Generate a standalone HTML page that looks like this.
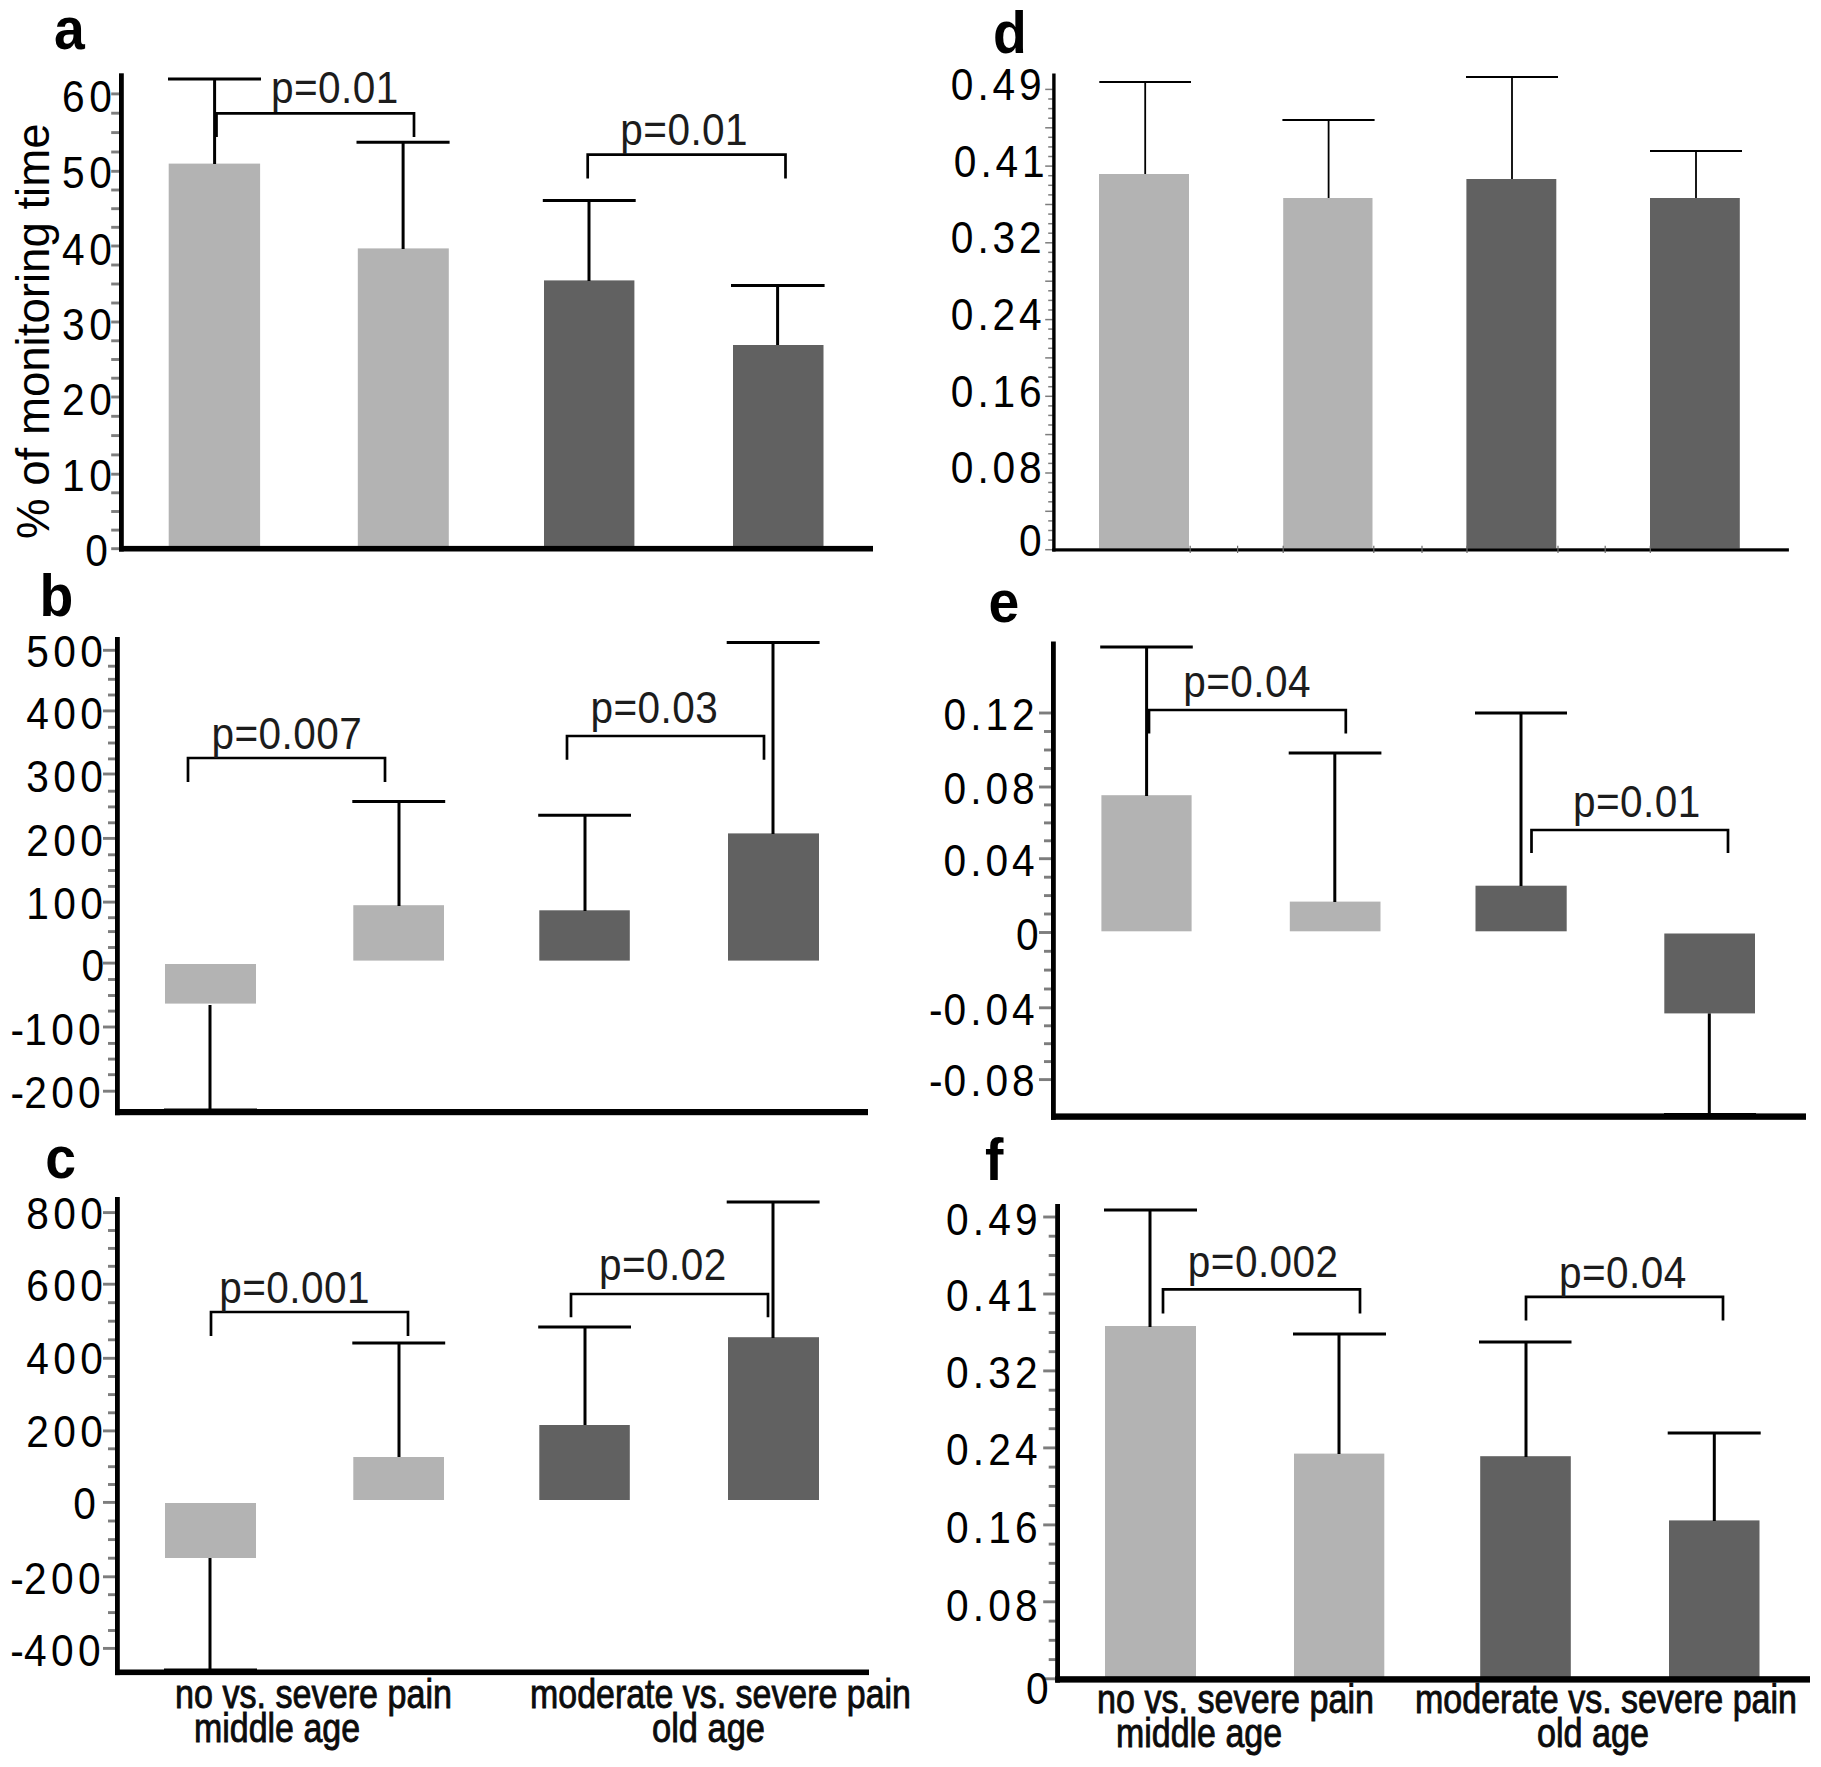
<!DOCTYPE html>
<html><head><meta charset="utf-8"><title>Figure</title>
<style>
html,body{margin:0;padding:0;background:#fff;}
svg{display:block;font-family:"Liberation Sans",Arial,sans-serif;}
</style></head><body>
<svg width="1821" height="1767" viewBox="0 0 1821 1767">
<rect width="1821" height="1767" fill="#fff"/>
<line x1="111.2" y1="93.9" x2="119.5" y2="93.9" stroke="#7d7d7d" stroke-width="2.9"/>
<line x1="111.2" y1="113.2" x2="119.5" y2="113.2" stroke="#7d7d7d" stroke-width="2.9"/>
<line x1="111.2" y1="132.6" x2="119.5" y2="132.6" stroke="#7d7d7d" stroke-width="2.9"/>
<line x1="111.2" y1="152.0" x2="119.5" y2="152.0" stroke="#7d7d7d" stroke-width="2.9"/>
<line x1="111.2" y1="171.3" x2="119.5" y2="171.3" stroke="#7d7d7d" stroke-width="2.9"/>
<line x1="111.2" y1="190.0" x2="119.5" y2="190.0" stroke="#7d7d7d" stroke-width="2.9"/>
<line x1="111.2" y1="208.7" x2="119.5" y2="208.7" stroke="#7d7d7d" stroke-width="2.9"/>
<line x1="111.2" y1="227.3" x2="119.5" y2="227.3" stroke="#7d7d7d" stroke-width="2.9"/>
<line x1="111.2" y1="246.0" x2="119.5" y2="246.0" stroke="#7d7d7d" stroke-width="2.9"/>
<line x1="111.2" y1="265.0" x2="119.5" y2="265.0" stroke="#7d7d7d" stroke-width="2.9"/>
<line x1="111.2" y1="284.0" x2="119.5" y2="284.0" stroke="#7d7d7d" stroke-width="2.9"/>
<line x1="111.2" y1="303.0" x2="119.5" y2="303.0" stroke="#7d7d7d" stroke-width="2.9"/>
<line x1="111.2" y1="322.0" x2="119.5" y2="322.0" stroke="#7d7d7d" stroke-width="2.9"/>
<line x1="111.2" y1="340.8" x2="119.5" y2="340.8" stroke="#7d7d7d" stroke-width="2.9"/>
<line x1="111.2" y1="359.5" x2="119.5" y2="359.5" stroke="#7d7d7d" stroke-width="2.9"/>
<line x1="111.2" y1="378.2" x2="119.5" y2="378.2" stroke="#7d7d7d" stroke-width="2.9"/>
<line x1="111.2" y1="397.0" x2="119.5" y2="397.0" stroke="#7d7d7d" stroke-width="2.9"/>
<line x1="111.2" y1="416.3" x2="119.5" y2="416.3" stroke="#7d7d7d" stroke-width="2.9"/>
<line x1="111.2" y1="435.6" x2="119.5" y2="435.6" stroke="#7d7d7d" stroke-width="2.9"/>
<line x1="111.2" y1="454.9" x2="119.5" y2="454.9" stroke="#7d7d7d" stroke-width="2.9"/>
<line x1="111.2" y1="474.2" x2="119.5" y2="474.2" stroke="#7d7d7d" stroke-width="2.9"/>
<line x1="111.2" y1="492.8" x2="119.5" y2="492.8" stroke="#7d7d7d" stroke-width="2.9"/>
<line x1="111.2" y1="511.5" x2="119.5" y2="511.5" stroke="#7d7d7d" stroke-width="2.9"/>
<line x1="111.2" y1="530.1" x2="119.5" y2="530.1" stroke="#7d7d7d" stroke-width="2.9"/>
<line x1="111.2" y1="548.7" x2="119.5" y2="548.7" stroke="#7d7d7d" stroke-width="2.9"/>
<rect x="168.7" y="163.6" width="91.4" height="384.4" fill="#b3b3b3"/>
<rect x="357.8" y="248.4" width="91.0" height="299.6" fill="#b3b3b3"/>
<rect x="544.0" y="280.4" width="90.4" height="267.6" fill="#616161"/>
<rect x="733.0" y="345.0" width="90.5" height="203.0" fill="#616161"/>
<line x1="214.6" y1="79.0" x2="214.6" y2="164.0" stroke="#000" stroke-width="3"/>
<line x1="168.0" y1="79.0" x2="261.0" y2="79.0" stroke="#000" stroke-width="3"/>
<line x1="403.1" y1="142.2" x2="403.1" y2="249.0" stroke="#000" stroke-width="3"/>
<line x1="356.5" y1="142.2" x2="449.6" y2="142.2" stroke="#000" stroke-width="3"/>
<line x1="589.0" y1="200.6" x2="589.0" y2="281.0" stroke="#000" stroke-width="3"/>
<line x1="542.8" y1="200.6" x2="635.7" y2="200.6" stroke="#000" stroke-width="3"/>
<line x1="777.6" y1="285.5" x2="777.6" y2="345.0" stroke="#000" stroke-width="3"/>
<line x1="731.0" y1="285.5" x2="824.6" y2="285.5" stroke="#000" stroke-width="3"/>
<rect x="119.0" y="73.3" width="4.8" height="478.2" fill="#000"/>
<rect x="119.0" y="545.9" width="754.0" height="5.6" fill="#000"/>
<text transform="translate(116.3,111.5) scale(0.925,1)" font-size="44" text-anchor="end" font-weight="normal" letter-spacing="4.9" fill="#000">60</text>
<text transform="translate(116.3,188.1) scale(0.925,1)" font-size="44" text-anchor="end" font-weight="normal" letter-spacing="4.9" fill="#000">50</text>
<text transform="translate(116.3,265.2) scale(0.925,1)" font-size="44" text-anchor="end" font-weight="normal" letter-spacing="4.9" fill="#000">40</text>
<text transform="translate(116.3,339.8) scale(0.925,1)" font-size="44" text-anchor="end" font-weight="normal" letter-spacing="4.9" fill="#000">30</text>
<text transform="translate(116.3,414.8) scale(0.925,1)" font-size="44" text-anchor="end" font-weight="normal" letter-spacing="4.9" fill="#000">20</text>
<text transform="translate(116.3,491.2) scale(0.925,1)" font-size="44" text-anchor="end" font-weight="normal" letter-spacing="4.9" fill="#000">10</text>
<text transform="translate(112.5,566.0) scale(0.925,1)" font-size="44" text-anchor="end" font-weight="normal" letter-spacing="4.9" fill="#000">0</text>
<path d="M216.5 137.0V113.4H414.0V137.0" fill="none" stroke="#000" stroke-width="2.7"/>
<text transform="translate(271.0,103.2) scale(0.907,1)" font-size="44.7" text-anchor="start" font-weight="normal" letter-spacing="0.5" fill="#1c1c1c">p=0.01</text>
<path d="M587.7 178.4V154.6H785.5V178.4" fill="none" stroke="#000" stroke-width="2.7"/>
<text transform="translate(620.3,144.6) scale(0.907,1)" font-size="44.7" text-anchor="start" font-weight="normal" letter-spacing="0.5" fill="#1c1c1c">p=0.01</text>
<text transform="translate(54.0,48.5) scale(0.93,1)" font-size="59.5" text-anchor="start" font-weight="bold" letter-spacing="0" fill="#000">a</text>
<line x1="103.0" y1="650.3" x2="115.5" y2="650.3" stroke="#7d7d7d" stroke-width="2.9"/>
<line x1="108.0" y1="666.2" x2="115.5" y2="666.2" stroke="#7d7d7d" stroke-width="2.9"/>
<line x1="108.0" y1="679.3" x2="115.5" y2="679.3" stroke="#7d7d7d" stroke-width="2.9"/>
<line x1="108.0" y1="695.0" x2="115.5" y2="695.0" stroke="#7d7d7d" stroke-width="2.9"/>
<line x1="103.0" y1="710.9" x2="115.5" y2="710.9" stroke="#7d7d7d" stroke-width="2.9"/>
<line x1="108.0" y1="727.3" x2="115.5" y2="727.3" stroke="#7d7d7d" stroke-width="2.9"/>
<line x1="108.0" y1="743.0" x2="115.5" y2="743.0" stroke="#7d7d7d" stroke-width="2.9"/>
<line x1="108.0" y1="758.9" x2="115.5" y2="758.9" stroke="#7d7d7d" stroke-width="2.9"/>
<line x1="103.0" y1="774.0" x2="115.5" y2="774.0" stroke="#7d7d7d" stroke-width="2.9"/>
<line x1="108.0" y1="791.2" x2="115.5" y2="791.2" stroke="#7d7d7d" stroke-width="2.9"/>
<line x1="108.0" y1="806.9" x2="115.5" y2="806.9" stroke="#7d7d7d" stroke-width="2.9"/>
<line x1="108.0" y1="822.8" x2="115.5" y2="822.8" stroke="#7d7d7d" stroke-width="2.9"/>
<line x1="103.0" y1="838.4" x2="115.5" y2="838.4" stroke="#7d7d7d" stroke-width="2.9"/>
<line x1="108.0" y1="854.8" x2="115.5" y2="854.8" stroke="#7d7d7d" stroke-width="2.9"/>
<line x1="108.0" y1="870.5" x2="115.5" y2="870.5" stroke="#7d7d7d" stroke-width="2.9"/>
<line x1="108.0" y1="886.4" x2="115.5" y2="886.4" stroke="#7d7d7d" stroke-width="2.9"/>
<line x1="103.0" y1="902.1" x2="115.5" y2="902.1" stroke="#7d7d7d" stroke-width="2.9"/>
<line x1="108.0" y1="917.7" x2="115.5" y2="917.7" stroke="#7d7d7d" stroke-width="2.9"/>
<line x1="108.0" y1="931.6" x2="115.5" y2="931.6" stroke="#7d7d7d" stroke-width="2.9"/>
<line x1="108.0" y1="947.5" x2="115.5" y2="947.5" stroke="#7d7d7d" stroke-width="2.9"/>
<line x1="103.0" y1="963.1" x2="115.5" y2="963.1" stroke="#7d7d7d" stroke-width="2.9"/>
<line x1="108.0" y1="979.5" x2="115.5" y2="979.5" stroke="#7d7d7d" stroke-width="2.9"/>
<line x1="108.0" y1="995.5" x2="115.5" y2="995.5" stroke="#7d7d7d" stroke-width="2.9"/>
<line x1="108.0" y1="1011.1" x2="115.5" y2="1011.1" stroke="#7d7d7d" stroke-width="2.9"/>
<line x1="103.0" y1="1027.0" x2="115.5" y2="1027.0" stroke="#7d7d7d" stroke-width="2.9"/>
<line x1="108.0" y1="1043.4" x2="115.5" y2="1043.4" stroke="#7d7d7d" stroke-width="2.9"/>
<line x1="108.0" y1="1059.1" x2="115.5" y2="1059.1" stroke="#7d7d7d" stroke-width="2.9"/>
<line x1="108.0" y1="1074.7" x2="115.5" y2="1074.7" stroke="#7d7d7d" stroke-width="2.9"/>
<line x1="103.0" y1="1091.2" x2="115.5" y2="1091.2" stroke="#7d7d7d" stroke-width="2.9"/>
<rect x="165.0" y="964.0" width="91.0" height="39.6" fill="#b3b3b3"/>
<rect x="353.3" y="905.2" width="90.7" height="55.4" fill="#b3b3b3"/>
<rect x="539.3" y="910.3" width="90.5" height="50.3" fill="#616161"/>
<rect x="728.0" y="833.4" width="91.0" height="127.2" fill="#616161"/>
<line x1="210.0" y1="1005.0" x2="210.0" y2="1110.0" stroke="#000" stroke-width="3"/>
<line x1="164.0" y1="1110.0" x2="257.0" y2="1110.0" stroke="#000" stroke-width="3"/>
<line x1="399.0" y1="801.5" x2="399.0" y2="906.0" stroke="#000" stroke-width="3"/>
<line x1="352.3" y1="801.5" x2="445.2" y2="801.5" stroke="#000" stroke-width="3"/>
<line x1="585.0" y1="815.3" x2="585.0" y2="911.0" stroke="#000" stroke-width="3"/>
<line x1="538.2" y1="815.3" x2="631.0" y2="815.3" stroke="#000" stroke-width="3"/>
<line x1="773.0" y1="642.6" x2="773.0" y2="834.0" stroke="#000" stroke-width="3"/>
<line x1="726.7" y1="642.6" x2="819.6" y2="642.6" stroke="#000" stroke-width="3"/>
<rect x="115.0" y="637.0" width="4.8" height="478.2" fill="#000"/>
<rect x="115.0" y="1109.0" width="753.0" height="6.2" fill="#000"/>
<text transform="translate(107.3,667.2) scale(0.925,1)" font-size="44" text-anchor="end" font-weight="normal" letter-spacing="4.7" fill="#000">500</text>
<text transform="translate(107.3,729.2) scale(0.925,1)" font-size="44" text-anchor="end" font-weight="normal" letter-spacing="4.7" fill="#000">400</text>
<text transform="translate(107.3,792.2) scale(0.925,1)" font-size="44" text-anchor="end" font-weight="normal" letter-spacing="4.7" fill="#000">300</text>
<text transform="translate(107.3,855.8) scale(0.925,1)" font-size="44" text-anchor="end" font-weight="normal" letter-spacing="4.7" fill="#000">200</text>
<text transform="translate(107.3,919.2) scale(0.925,1)" font-size="44" text-anchor="end" font-weight="normal" letter-spacing="4.7" fill="#000">100</text>
<text transform="translate(108.6,980.5) scale(0.925,1)" font-size="44" text-anchor="end" font-weight="normal" letter-spacing="4.7" fill="#000">0</text>
<text transform="translate(105.1,1044.5) scale(0.925,1)" font-size="44" text-anchor="end" font-weight="normal" letter-spacing="4.7" fill="#000">-<tspan dx="-4.54">100</tspan></text>
<text transform="translate(105.1,1108.2) scale(0.925,1)" font-size="44" text-anchor="end" font-weight="normal" letter-spacing="4.7" fill="#000">-<tspan dx="-4.54">200</tspan></text>
<path d="M188.0 782.0V758.0H385.0V782.0" fill="none" stroke="#000" stroke-width="2.7"/>
<text transform="translate(211.5,748.6) scale(0.907,1)" font-size="44.7" text-anchor="start" font-weight="normal" letter-spacing="0.5" fill="#1c1c1c">p=0.007</text>
<path d="M567.0 759.7V736.0H764.0V759.7" fill="none" stroke="#000" stroke-width="2.7"/>
<text transform="translate(590.5,722.8) scale(0.907,1)" font-size="44.7" text-anchor="start" font-weight="normal" letter-spacing="0.5" fill="#1c1c1c">p=0.03</text>
<text transform="translate(39.6,616.4) scale(0.93,1)" font-size="59.5" text-anchor="start" font-weight="bold" letter-spacing="0" fill="#000">b</text>
<line x1="103.0" y1="1212.6" x2="115.5" y2="1212.6" stroke="#7d7d7d" stroke-width="2.9"/>
<line x1="108.0" y1="1230.5" x2="115.5" y2="1230.5" stroke="#7d7d7d" stroke-width="2.9"/>
<line x1="108.0" y1="1248.4" x2="115.5" y2="1248.4" stroke="#7d7d7d" stroke-width="2.9"/>
<line x1="108.0" y1="1266.3" x2="115.5" y2="1266.3" stroke="#7d7d7d" stroke-width="2.9"/>
<line x1="103.0" y1="1284.2" x2="115.5" y2="1284.2" stroke="#7d7d7d" stroke-width="2.9"/>
<line x1="108.0" y1="1302.7" x2="115.5" y2="1302.7" stroke="#7d7d7d" stroke-width="2.9"/>
<line x1="108.0" y1="1321.2" x2="115.5" y2="1321.2" stroke="#7d7d7d" stroke-width="2.9"/>
<line x1="108.0" y1="1339.8" x2="115.5" y2="1339.8" stroke="#7d7d7d" stroke-width="2.9"/>
<line x1="103.0" y1="1358.3" x2="115.5" y2="1358.3" stroke="#7d7d7d" stroke-width="2.9"/>
<line x1="108.0" y1="1376.5" x2="115.5" y2="1376.5" stroke="#7d7d7d" stroke-width="2.9"/>
<line x1="108.0" y1="1394.6" x2="115.5" y2="1394.6" stroke="#7d7d7d" stroke-width="2.9"/>
<line x1="108.0" y1="1412.8" x2="115.5" y2="1412.8" stroke="#7d7d7d" stroke-width="2.9"/>
<line x1="103.0" y1="1430.9" x2="115.5" y2="1430.9" stroke="#7d7d7d" stroke-width="2.9"/>
<line x1="108.0" y1="1448.8" x2="115.5" y2="1448.8" stroke="#7d7d7d" stroke-width="2.9"/>
<line x1="108.0" y1="1466.7" x2="115.5" y2="1466.7" stroke="#7d7d7d" stroke-width="2.9"/>
<line x1="108.0" y1="1484.5" x2="115.5" y2="1484.5" stroke="#7d7d7d" stroke-width="2.9"/>
<line x1="103.0" y1="1502.4" x2="115.5" y2="1502.4" stroke="#7d7d7d" stroke-width="2.9"/>
<line x1="108.0" y1="1521.0" x2="115.5" y2="1521.0" stroke="#7d7d7d" stroke-width="2.9"/>
<line x1="108.0" y1="1539.6" x2="115.5" y2="1539.6" stroke="#7d7d7d" stroke-width="2.9"/>
<line x1="108.0" y1="1558.2" x2="115.5" y2="1558.2" stroke="#7d7d7d" stroke-width="2.9"/>
<line x1="103.0" y1="1576.8" x2="115.5" y2="1576.8" stroke="#7d7d7d" stroke-width="2.9"/>
<line x1="108.0" y1="1594.7" x2="115.5" y2="1594.7" stroke="#7d7d7d" stroke-width="2.9"/>
<line x1="108.0" y1="1612.6" x2="115.5" y2="1612.6" stroke="#7d7d7d" stroke-width="2.9"/>
<line x1="108.0" y1="1630.5" x2="115.5" y2="1630.5" stroke="#7d7d7d" stroke-width="2.9"/>
<line x1="103.0" y1="1648.4" x2="115.5" y2="1648.4" stroke="#7d7d7d" stroke-width="2.9"/>
<rect x="165.0" y="1503.0" width="91.0" height="55.0" fill="#b3b3b3"/>
<rect x="353.3" y="1457.0" width="90.7" height="43.0" fill="#b3b3b3"/>
<rect x="539.3" y="1425.0" width="90.5" height="75.0" fill="#616161"/>
<rect x="728.0" y="1337.2" width="91.0" height="162.8" fill="#616161"/>
<line x1="210.0" y1="1558.0" x2="210.0" y2="1670.0" stroke="#000" stroke-width="3"/>
<line x1="164.0" y1="1670.0" x2="257.0" y2="1670.0" stroke="#000" stroke-width="3"/>
<line x1="399.0" y1="1343.0" x2="399.0" y2="1457.0" stroke="#000" stroke-width="3"/>
<line x1="352.3" y1="1343.0" x2="445.2" y2="1343.0" stroke="#000" stroke-width="3"/>
<line x1="585.0" y1="1327.0" x2="585.0" y2="1425.0" stroke="#000" stroke-width="3"/>
<line x1="538.2" y1="1327.0" x2="631.0" y2="1327.0" stroke="#000" stroke-width="3"/>
<line x1="773.0" y1="1202.0" x2="773.0" y2="1338.0" stroke="#000" stroke-width="3"/>
<line x1="726.7" y1="1202.0" x2="819.6" y2="1202.0" stroke="#000" stroke-width="3"/>
<rect x="115.0" y="1197.0" width="4.8" height="478.1" fill="#000"/>
<rect x="115.0" y="1669.5" width="754.0" height="5.6" fill="#000"/>
<text transform="translate(107.3,1229.2) scale(0.925,1)" font-size="44" text-anchor="end" font-weight="normal" letter-spacing="4.7" fill="#000">800</text>
<text transform="translate(107.3,1301.2) scale(0.925,1)" font-size="44" text-anchor="end" font-weight="normal" letter-spacing="4.7" fill="#000">600</text>
<text transform="translate(107.3,1374.2) scale(0.925,1)" font-size="44" text-anchor="end" font-weight="normal" letter-spacing="4.7" fill="#000">400</text>
<text transform="translate(107.3,1446.8) scale(0.925,1)" font-size="44" text-anchor="end" font-weight="normal" letter-spacing="4.7" fill="#000">200</text>
<text transform="translate(100.3,1519.2) scale(0.925,1)" font-size="44" text-anchor="end" font-weight="normal" letter-spacing="4.7" fill="#000">0</text>
<text transform="translate(105.0,1593.5) scale(0.925,1)" font-size="44" text-anchor="end" font-weight="normal" letter-spacing="4.7" fill="#000">-<tspan dx="-4.54">200</tspan></text>
<text transform="translate(105.0,1665.5) scale(0.925,1)" font-size="44" text-anchor="end" font-weight="normal" letter-spacing="4.7" fill="#000">-<tspan dx="-4.54">400</tspan></text>
<path d="M211.0 1336.0V1312.0H408.0V1336.0" fill="none" stroke="#000" stroke-width="2.7"/>
<text transform="translate(219.2,1303.0) scale(0.907,1)" font-size="44.7" text-anchor="start" font-weight="normal" letter-spacing="0.5" fill="#1c1c1c">p=0.001</text>
<path d="M571.0 1317.3V1294.0H768.0V1317.3" fill="none" stroke="#000" stroke-width="2.7"/>
<text transform="translate(599.0,1280.0) scale(0.907,1)" font-size="44.7" text-anchor="start" font-weight="normal" letter-spacing="0.5" fill="#1c1c1c">p=0.02</text>
<text transform="translate(45.3,1178.2) scale(0.93,1)" font-size="59.5" text-anchor="start" font-weight="bold" letter-spacing="0" fill="#000">c</text>
<line x1="1045.2" y1="89.4" x2="1052.7" y2="89.4" stroke="#7d7d7d" stroke-width="1.5"/>
<line x1="1048.2" y1="99.0" x2="1052.7" y2="99.0" stroke="#7d7d7d" stroke-width="1.5"/>
<line x1="1048.2" y1="108.6" x2="1052.7" y2="108.6" stroke="#7d7d7d" stroke-width="1.5"/>
<line x1="1048.2" y1="118.2" x2="1052.7" y2="118.2" stroke="#7d7d7d" stroke-width="1.5"/>
<line x1="1045.2" y1="127.8" x2="1052.7" y2="127.8" stroke="#7d7d7d" stroke-width="1.5"/>
<line x1="1048.2" y1="137.3" x2="1052.7" y2="137.3" stroke="#7d7d7d" stroke-width="1.5"/>
<line x1="1048.2" y1="146.9" x2="1052.7" y2="146.9" stroke="#7d7d7d" stroke-width="1.5"/>
<line x1="1048.2" y1="156.5" x2="1052.7" y2="156.5" stroke="#7d7d7d" stroke-width="1.5"/>
<line x1="1045.2" y1="166.1" x2="1052.7" y2="166.1" stroke="#7d7d7d" stroke-width="1.5"/>
<line x1="1048.2" y1="175.7" x2="1052.7" y2="175.7" stroke="#7d7d7d" stroke-width="1.5"/>
<line x1="1048.2" y1="185.3" x2="1052.7" y2="185.3" stroke="#7d7d7d" stroke-width="1.5"/>
<line x1="1048.2" y1="194.9" x2="1052.7" y2="194.9" stroke="#7d7d7d" stroke-width="1.5"/>
<line x1="1045.2" y1="204.5" x2="1052.7" y2="204.5" stroke="#7d7d7d" stroke-width="1.5"/>
<line x1="1048.2" y1="214.1" x2="1052.7" y2="214.1" stroke="#7d7d7d" stroke-width="1.5"/>
<line x1="1048.2" y1="223.7" x2="1052.7" y2="223.7" stroke="#7d7d7d" stroke-width="1.5"/>
<line x1="1048.2" y1="233.2" x2="1052.7" y2="233.2" stroke="#7d7d7d" stroke-width="1.5"/>
<line x1="1045.2" y1="242.8" x2="1052.7" y2="242.8" stroke="#7d7d7d" stroke-width="1.5"/>
<line x1="1048.2" y1="252.4" x2="1052.7" y2="252.4" stroke="#7d7d7d" stroke-width="1.5"/>
<line x1="1048.2" y1="262.0" x2="1052.7" y2="262.0" stroke="#7d7d7d" stroke-width="1.5"/>
<line x1="1048.2" y1="271.6" x2="1052.7" y2="271.6" stroke="#7d7d7d" stroke-width="1.5"/>
<line x1="1045.2" y1="281.2" x2="1052.7" y2="281.2" stroke="#7d7d7d" stroke-width="1.5"/>
<line x1="1048.2" y1="290.8" x2="1052.7" y2="290.8" stroke="#7d7d7d" stroke-width="1.5"/>
<line x1="1048.2" y1="300.4" x2="1052.7" y2="300.4" stroke="#7d7d7d" stroke-width="1.5"/>
<line x1="1048.2" y1="310.0" x2="1052.7" y2="310.0" stroke="#7d7d7d" stroke-width="1.5"/>
<line x1="1045.2" y1="319.6" x2="1052.7" y2="319.6" stroke="#7d7d7d" stroke-width="1.5"/>
<line x1="1048.2" y1="329.1" x2="1052.7" y2="329.1" stroke="#7d7d7d" stroke-width="1.5"/>
<line x1="1048.2" y1="338.7" x2="1052.7" y2="338.7" stroke="#7d7d7d" stroke-width="1.5"/>
<line x1="1048.2" y1="348.3" x2="1052.7" y2="348.3" stroke="#7d7d7d" stroke-width="1.5"/>
<line x1="1045.2" y1="357.9" x2="1052.7" y2="357.9" stroke="#7d7d7d" stroke-width="1.5"/>
<line x1="1048.2" y1="367.5" x2="1052.7" y2="367.5" stroke="#7d7d7d" stroke-width="1.5"/>
<line x1="1048.2" y1="377.1" x2="1052.7" y2="377.1" stroke="#7d7d7d" stroke-width="1.5"/>
<line x1="1048.2" y1="386.7" x2="1052.7" y2="386.7" stroke="#7d7d7d" stroke-width="1.5"/>
<line x1="1045.2" y1="396.3" x2="1052.7" y2="396.3" stroke="#7d7d7d" stroke-width="1.5"/>
<line x1="1048.2" y1="405.9" x2="1052.7" y2="405.9" stroke="#7d7d7d" stroke-width="1.5"/>
<line x1="1048.2" y1="415.4" x2="1052.7" y2="415.4" stroke="#7d7d7d" stroke-width="1.5"/>
<line x1="1048.2" y1="425.0" x2="1052.7" y2="425.0" stroke="#7d7d7d" stroke-width="1.5"/>
<line x1="1045.2" y1="434.6" x2="1052.7" y2="434.6" stroke="#7d7d7d" stroke-width="1.5"/>
<line x1="1048.2" y1="444.2" x2="1052.7" y2="444.2" stroke="#7d7d7d" stroke-width="1.5"/>
<line x1="1048.2" y1="453.8" x2="1052.7" y2="453.8" stroke="#7d7d7d" stroke-width="1.5"/>
<line x1="1048.2" y1="463.4" x2="1052.7" y2="463.4" stroke="#7d7d7d" stroke-width="1.5"/>
<line x1="1045.2" y1="473.0" x2="1052.7" y2="473.0" stroke="#7d7d7d" stroke-width="1.5"/>
<line x1="1048.2" y1="482.6" x2="1052.7" y2="482.6" stroke="#7d7d7d" stroke-width="1.5"/>
<line x1="1048.2" y1="492.2" x2="1052.7" y2="492.2" stroke="#7d7d7d" stroke-width="1.5"/>
<line x1="1048.2" y1="501.8" x2="1052.7" y2="501.8" stroke="#7d7d7d" stroke-width="1.5"/>
<line x1="1045.2" y1="511.3" x2="1052.7" y2="511.3" stroke="#7d7d7d" stroke-width="1.5"/>
<line x1="1048.2" y1="520.9" x2="1052.7" y2="520.9" stroke="#7d7d7d" stroke-width="1.5"/>
<line x1="1048.2" y1="530.5" x2="1052.7" y2="530.5" stroke="#7d7d7d" stroke-width="1.5"/>
<line x1="1048.2" y1="540.1" x2="1052.7" y2="540.1" stroke="#7d7d7d" stroke-width="1.5"/>
<line x1="1045.2" y1="549.7" x2="1052.7" y2="549.7" stroke="#7d7d7d" stroke-width="1.5"/>
<rect x="1099.0" y="174.0" width="90.0" height="374.5" fill="#b3b3b3"/>
<rect x="1283.2" y="198.0" width="89.3" height="350.5" fill="#b3b3b3"/>
<rect x="1466.4" y="179.0" width="89.9" height="369.5" fill="#616161"/>
<rect x="1650.0" y="198.0" width="89.8" height="350.5" fill="#616161"/>
<line x1="1145.2" y1="82.0" x2="1145.2" y2="174.0" stroke="#000" stroke-width="1.8"/>
<line x1="1099.3" y1="82.0" x2="1191.0" y2="82.0" stroke="#000" stroke-width="1.8"/>
<line x1="1328.6" y1="120.0" x2="1328.6" y2="198.0" stroke="#000" stroke-width="1.8"/>
<line x1="1282.4" y1="120.0" x2="1374.6" y2="120.0" stroke="#000" stroke-width="1.8"/>
<line x1="1512.0" y1="77.0" x2="1512.0" y2="179.0" stroke="#000" stroke-width="1.8"/>
<line x1="1466.0" y1="77.0" x2="1558.0" y2="77.0" stroke="#000" stroke-width="1.8"/>
<line x1="1696.0" y1="151.0" x2="1696.0" y2="198.0" stroke="#000" stroke-width="1.8"/>
<line x1="1650.0" y1="151.0" x2="1742.0" y2="151.0" stroke="#000" stroke-width="1.8"/>
<rect x="1052.2" y="73.5" width="3.4" height="478.0" fill="#000"/>
<rect x="1052.2" y="548.3" width="736.7" height="3.2" fill="#000"/>
<line x1="1190.2" y1="545.7" x2="1190.2" y2="553.1" stroke="#6a6a6a" stroke-width="1.2"/>
<line x1="1237.6" y1="545.7" x2="1237.6" y2="553.1" stroke="#6a6a6a" stroke-width="1.2"/>
<line x1="1283.2" y1="545.7" x2="1283.2" y2="553.1" stroke="#6a6a6a" stroke-width="1.2"/>
<line x1="1373.8" y1="545.7" x2="1373.8" y2="553.1" stroke="#6a6a6a" stroke-width="1.2"/>
<line x1="1422.0" y1="545.7" x2="1422.0" y2="553.1" stroke="#6a6a6a" stroke-width="1.2"/>
<line x1="1467.0" y1="545.7" x2="1467.0" y2="553.1" stroke="#6a6a6a" stroke-width="1.2"/>
<line x1="1558.0" y1="545.7" x2="1558.0" y2="553.1" stroke="#6a6a6a" stroke-width="1.2"/>
<line x1="1605.2" y1="545.7" x2="1605.2" y2="553.1" stroke="#6a6a6a" stroke-width="1.2"/>
<line x1="1650.3" y1="545.7" x2="1650.3" y2="553.1" stroke="#6a6a6a" stroke-width="1.2"/>
<text transform="translate(1045.6,99.8) scale(0.925,1)" font-size="44" text-anchor="end" font-weight="normal" letter-spacing="4.2" fill="#000">0.49</text>
<text transform="translate(1048.6,176.8) scale(0.925,1)" font-size="44" text-anchor="end" font-weight="normal" letter-spacing="4.2" fill="#000">0.41</text>
<text transform="translate(1045.6,253.2) scale(0.925,1)" font-size="44" text-anchor="end" font-weight="normal" letter-spacing="4.2" fill="#000">0.32</text>
<text transform="translate(1045.6,330.2) scale(0.925,1)" font-size="44" text-anchor="end" font-weight="normal" letter-spacing="4.2" fill="#000">0.24</text>
<text transform="translate(1045.6,406.8) scale(0.925,1)" font-size="44" text-anchor="end" font-weight="normal" letter-spacing="4.2" fill="#000">0.16</text>
<text transform="translate(1045.6,483.2) scale(0.925,1)" font-size="44" text-anchor="end" font-weight="normal" letter-spacing="4.2" fill="#000">0.08</text>
<text transform="translate(1045.6,556.2) scale(0.925,1)" font-size="44" text-anchor="end" font-weight="normal" letter-spacing="4.2" fill="#000">0</text>
<text transform="translate(993.0,53.0) scale(0.93,1)" font-size="59.5" text-anchor="start" font-weight="bold" letter-spacing="0" fill="#000">d</text>
<line x1="1039.0" y1="713.0" x2="1051.5" y2="713.0" stroke="#7d7d7d" stroke-width="2.9"/>
<line x1="1044.0" y1="731.5" x2="1051.5" y2="731.5" stroke="#7d7d7d" stroke-width="2.9"/>
<line x1="1044.0" y1="750.0" x2="1051.5" y2="750.0" stroke="#7d7d7d" stroke-width="2.9"/>
<line x1="1044.0" y1="768.5" x2="1051.5" y2="768.5" stroke="#7d7d7d" stroke-width="2.9"/>
<line x1="1039.0" y1="787.0" x2="1051.5" y2="787.0" stroke="#7d7d7d" stroke-width="2.9"/>
<line x1="1044.0" y1="804.9" x2="1051.5" y2="804.9" stroke="#7d7d7d" stroke-width="2.9"/>
<line x1="1044.0" y1="822.9" x2="1051.5" y2="822.9" stroke="#7d7d7d" stroke-width="2.9"/>
<line x1="1044.0" y1="840.8" x2="1051.5" y2="840.8" stroke="#7d7d7d" stroke-width="2.9"/>
<line x1="1039.0" y1="858.7" x2="1051.5" y2="858.7" stroke="#7d7d7d" stroke-width="2.9"/>
<line x1="1044.0" y1="877.2" x2="1051.5" y2="877.2" stroke="#7d7d7d" stroke-width="2.9"/>
<line x1="1044.0" y1="895.6" x2="1051.5" y2="895.6" stroke="#7d7d7d" stroke-width="2.9"/>
<line x1="1044.0" y1="914.0" x2="1051.5" y2="914.0" stroke="#7d7d7d" stroke-width="2.9"/>
<line x1="1039.0" y1="932.5" x2="1051.5" y2="932.5" stroke="#7d7d7d" stroke-width="2.9"/>
<line x1="1044.0" y1="951.3" x2="1051.5" y2="951.3" stroke="#7d7d7d" stroke-width="2.9"/>
<line x1="1044.0" y1="970.1" x2="1051.5" y2="970.1" stroke="#7d7d7d" stroke-width="2.9"/>
<line x1="1044.0" y1="989.0" x2="1051.5" y2="989.0" stroke="#7d7d7d" stroke-width="2.9"/>
<line x1="1039.0" y1="1007.8" x2="1051.5" y2="1007.8" stroke="#7d7d7d" stroke-width="2.9"/>
<line x1="1044.0" y1="1025.8" x2="1051.5" y2="1025.8" stroke="#7d7d7d" stroke-width="2.9"/>
<line x1="1044.0" y1="1043.7" x2="1051.5" y2="1043.7" stroke="#7d7d7d" stroke-width="2.9"/>
<line x1="1044.0" y1="1061.6" x2="1051.5" y2="1061.6" stroke="#7d7d7d" stroke-width="2.9"/>
<line x1="1039.0" y1="1079.6" x2="1051.5" y2="1079.6" stroke="#7d7d7d" stroke-width="2.9"/>
<rect x="1101.4" y="795.2" width="90.2" height="136.1" fill="#b3b3b3"/>
<rect x="1289.8" y="901.6" width="90.7" height="29.7" fill="#b3b3b3"/>
<rect x="1475.5" y="885.7" width="91.2" height="45.6" fill="#616161"/>
<rect x="1664.3" y="933.5" width="90.7" height="79.9" fill="#616161"/>
<line x1="1146.6" y1="647.0" x2="1146.6" y2="796.0" stroke="#000" stroke-width="3"/>
<line x1="1100.2" y1="647.0" x2="1192.8" y2="647.0" stroke="#000" stroke-width="3"/>
<line x1="1334.8" y1="753.0" x2="1334.8" y2="902.0" stroke="#000" stroke-width="3"/>
<line x1="1288.7" y1="753.0" x2="1381.4" y2="753.0" stroke="#000" stroke-width="3"/>
<line x1="1521.0" y1="713.0" x2="1521.0" y2="886.0" stroke="#000" stroke-width="3"/>
<line x1="1475.0" y1="713.0" x2="1567.0" y2="713.0" stroke="#000" stroke-width="3"/>
<line x1="1709.3" y1="1013.4" x2="1709.3" y2="1114.0" stroke="#000" stroke-width="3"/>
<line x1="1664.0" y1="1114.5" x2="1756.0" y2="1114.5" stroke="#000" stroke-width="3"/>
<rect x="1051.0" y="641.5" width="4.8" height="478.3" fill="#000"/>
<rect x="1051.0" y="1113.4" width="755.0" height="6.4" fill="#000"/>
<text transform="translate(1038.7,729.6) scale(0.925,1)" font-size="44" text-anchor="end" font-weight="normal" letter-spacing="4.3" fill="#000">0.12</text>
<text transform="translate(1038.7,804.2) scale(0.925,1)" font-size="44" text-anchor="end" font-weight="normal" letter-spacing="4.3" fill="#000">0.08</text>
<text transform="translate(1038.7,875.6) scale(0.925,1)" font-size="44" text-anchor="end" font-weight="normal" letter-spacing="4.3" fill="#000">0.04</text>
<text transform="translate(1042.7,950.2) scale(0.925,1)" font-size="44" text-anchor="end" font-weight="normal" letter-spacing="4.3" fill="#000">0</text>
<text transform="translate(1038.7,1025.0) scale(0.925,1)" font-size="44" text-anchor="end" font-weight="normal" letter-spacing="4.3" fill="#000">-<tspan dx="-3.14">0.04</tspan></text>
<text transform="translate(1038.7,1095.8) scale(0.925,1)" font-size="44" text-anchor="end" font-weight="normal" letter-spacing="4.3" fill="#000">-<tspan dx="-3.14">0.08</tspan></text>
<path d="M1149.0 733.5V710.0H1345.8V733.5" fill="none" stroke="#000" stroke-width="2.7"/>
<text transform="translate(1183.2,696.6) scale(0.907,1)" font-size="44.7" text-anchor="start" font-weight="normal" letter-spacing="0.5" fill="#1c1c1c">p=0.04</text>
<path d="M1531.5 853.0V830.0H1728.0V853.0" fill="none" stroke="#000" stroke-width="2.7"/>
<text transform="translate(1573.0,817.0) scale(0.907,1)" font-size="44.7" text-anchor="start" font-weight="normal" letter-spacing="0.5" fill="#1c1c1c">p=0.01</text>
<text transform="translate(988.5,621.7) scale(0.93,1)" font-size="59.5" text-anchor="start" font-weight="bold" letter-spacing="0" fill="#000">e</text>
<line x1="1043.2" y1="1217.0" x2="1055.7" y2="1217.0" stroke="#7d7d7d" stroke-width="2.9"/>
<line x1="1048.7" y1="1236.2" x2="1055.7" y2="1236.2" stroke="#7d7d7d" stroke-width="2.9"/>
<line x1="1048.7" y1="1255.5" x2="1055.7" y2="1255.5" stroke="#7d7d7d" stroke-width="2.9"/>
<line x1="1048.7" y1="1274.7" x2="1055.7" y2="1274.7" stroke="#7d7d7d" stroke-width="2.9"/>
<line x1="1043.2" y1="1294.0" x2="1055.7" y2="1294.0" stroke="#7d7d7d" stroke-width="2.9"/>
<line x1="1048.7" y1="1313.2" x2="1055.7" y2="1313.2" stroke="#7d7d7d" stroke-width="2.9"/>
<line x1="1048.7" y1="1332.5" x2="1055.7" y2="1332.5" stroke="#7d7d7d" stroke-width="2.9"/>
<line x1="1048.7" y1="1351.7" x2="1055.7" y2="1351.7" stroke="#7d7d7d" stroke-width="2.9"/>
<line x1="1043.2" y1="1370.9" x2="1055.7" y2="1370.9" stroke="#7d7d7d" stroke-width="2.9"/>
<line x1="1048.7" y1="1390.2" x2="1055.7" y2="1390.2" stroke="#7d7d7d" stroke-width="2.9"/>
<line x1="1048.7" y1="1409.4" x2="1055.7" y2="1409.4" stroke="#7d7d7d" stroke-width="2.9"/>
<line x1="1048.7" y1="1428.7" x2="1055.7" y2="1428.7" stroke="#7d7d7d" stroke-width="2.9"/>
<line x1="1043.2" y1="1447.9" x2="1055.7" y2="1447.9" stroke="#7d7d7d" stroke-width="2.9"/>
<line x1="1048.7" y1="1467.1" x2="1055.7" y2="1467.1" stroke="#7d7d7d" stroke-width="2.9"/>
<line x1="1048.7" y1="1486.4" x2="1055.7" y2="1486.4" stroke="#7d7d7d" stroke-width="2.9"/>
<line x1="1048.7" y1="1505.6" x2="1055.7" y2="1505.6" stroke="#7d7d7d" stroke-width="2.9"/>
<line x1="1043.2" y1="1524.9" x2="1055.7" y2="1524.9" stroke="#7d7d7d" stroke-width="2.9"/>
<line x1="1048.7" y1="1544.1" x2="1055.7" y2="1544.1" stroke="#7d7d7d" stroke-width="2.9"/>
<line x1="1048.7" y1="1563.3" x2="1055.7" y2="1563.3" stroke="#7d7d7d" stroke-width="2.9"/>
<line x1="1048.7" y1="1582.6" x2="1055.7" y2="1582.6" stroke="#7d7d7d" stroke-width="2.9"/>
<line x1="1043.2" y1="1601.8" x2="1055.7" y2="1601.8" stroke="#7d7d7d" stroke-width="2.9"/>
<line x1="1048.7" y1="1621.1" x2="1055.7" y2="1621.1" stroke="#7d7d7d" stroke-width="2.9"/>
<line x1="1048.7" y1="1640.3" x2="1055.7" y2="1640.3" stroke="#7d7d7d" stroke-width="2.9"/>
<line x1="1048.7" y1="1659.6" x2="1055.7" y2="1659.6" stroke="#7d7d7d" stroke-width="2.9"/>
<line x1="1043.2" y1="1678.8" x2="1055.7" y2="1678.8" stroke="#7d7d7d" stroke-width="2.9"/>
<rect x="1105.0" y="1326.0" width="91.0" height="351.5" fill="#b3b3b3"/>
<rect x="1294.0" y="1453.6" width="90.3" height="223.9" fill="#b3b3b3"/>
<rect x="1480.2" y="1456.2" width="90.6" height="221.3" fill="#616161"/>
<rect x="1669.0" y="1520.4" width="90.5" height="157.1" fill="#616161"/>
<line x1="1150.0" y1="1210.0" x2="1150.0" y2="1327.0" stroke="#000" stroke-width="3"/>
<line x1="1104.0" y1="1210.0" x2="1197.0" y2="1210.0" stroke="#000" stroke-width="3"/>
<line x1="1339.0" y1="1334.0" x2="1339.0" y2="1454.0" stroke="#000" stroke-width="3"/>
<line x1="1293.0" y1="1334.0" x2="1386.0" y2="1334.0" stroke="#000" stroke-width="3"/>
<line x1="1526.0" y1="1342.0" x2="1526.0" y2="1457.0" stroke="#000" stroke-width="3"/>
<line x1="1479.0" y1="1342.0" x2="1571.5" y2="1342.0" stroke="#000" stroke-width="3"/>
<line x1="1714.3" y1="1433.0" x2="1714.3" y2="1521.0" stroke="#000" stroke-width="3"/>
<line x1="1667.7" y1="1433.0" x2="1760.7" y2="1433.0" stroke="#000" stroke-width="3"/>
<rect x="1055.2" y="1204.0" width="4.8" height="478.6" fill="#000"/>
<rect x="1055.2" y="1676.2" width="754.8" height="6.4" fill="#000"/>
<text transform="translate(1041.9,1234.7) scale(0.925,1)" font-size="44" text-anchor="end" font-weight="normal" letter-spacing="4.5" fill="#000">0.49</text>
<text transform="translate(1041.9,1311.2) scale(0.925,1)" font-size="44" text-anchor="end" font-weight="normal" letter-spacing="4.5" fill="#000">0.41</text>
<text transform="translate(1041.9,1388.2) scale(0.925,1)" font-size="44" text-anchor="end" font-weight="normal" letter-spacing="4.5" fill="#000">0.32</text>
<text transform="translate(1041.9,1465.2) scale(0.925,1)" font-size="44" text-anchor="end" font-weight="normal" letter-spacing="4.5" fill="#000">0.24</text>
<text transform="translate(1041.9,1542.8) scale(0.925,1)" font-size="44" text-anchor="end" font-weight="normal" letter-spacing="4.5" fill="#000">0.16</text>
<text transform="translate(1041.9,1620.7) scale(0.925,1)" font-size="44" text-anchor="end" font-weight="normal" letter-spacing="4.5" fill="#000">0.08</text>
<text transform="translate(1052.9,1704.2) scale(0.925,1)" font-size="44" text-anchor="end" font-weight="normal" letter-spacing="4.5" fill="#000">0</text>
<path d="M1163.0 1313.5V1289.3H1360.0V1313.5" fill="none" stroke="#000" stroke-width="2.7"/>
<text transform="translate(1187.8,1276.6) scale(0.907,1)" font-size="44.7" text-anchor="start" font-weight="normal" letter-spacing="0.5" fill="#1c1c1c">p=0.002</text>
<path d="M1526.0 1320.5V1296.8H1723.0V1320.5" fill="none" stroke="#000" stroke-width="2.7"/>
<text transform="translate(1559.0,1288.0) scale(0.907,1)" font-size="44.7" text-anchor="start" font-weight="normal" letter-spacing="0.5" fill="#1c1c1c">p=0.04</text>
<text transform="translate(985.0,1180.0) scale(0.93,1)" font-size="59.5" text-anchor="start" font-weight="bold" letter-spacing="0" fill="#000">f</text>
<text transform="translate(49.2,539) rotate(-90)" font-size="45.6" fill="#000">% of monitoring time</text>
<text x="175" y="1708" font-size="41" textLength="277" lengthAdjust="spacingAndGlyphs" fill="#0c0c0c" stroke="#0c0c0c" stroke-width="0.9">no vs. severe pain</text>
<text x="194" y="1741.5" font-size="41" textLength="166" lengthAdjust="spacingAndGlyphs" fill="#0c0c0c" stroke="#0c0c0c" stroke-width="0.9">middle age</text>
<text x="530" y="1708" font-size="41" textLength="381" lengthAdjust="spacingAndGlyphs" fill="#0c0c0c" stroke="#0c0c0c" stroke-width="0.9">moderate vs. severe pain</text>
<text x="652" y="1741.5" font-size="41" textLength="113" lengthAdjust="spacingAndGlyphs" fill="#0c0c0c" stroke="#0c0c0c" stroke-width="0.9">old age</text>
<text x="1097" y="1713.2" font-size="41" textLength="277" lengthAdjust="spacingAndGlyphs" fill="#0c0c0c" stroke="#0c0c0c" stroke-width="0.9">no vs. severe pain</text>
<text x="1116" y="1747" font-size="41" textLength="166" lengthAdjust="spacingAndGlyphs" fill="#0c0c0c" stroke="#0c0c0c" stroke-width="0.9">middle age</text>
<text x="1415" y="1713.2" font-size="41" textLength="382" lengthAdjust="spacingAndGlyphs" fill="#0c0c0c" stroke="#0c0c0c" stroke-width="0.9">moderate vs. severe pain</text>
<text x="1537" y="1747" font-size="41" textLength="112" lengthAdjust="spacingAndGlyphs" fill="#0c0c0c" stroke="#0c0c0c" stroke-width="0.9">old age</text>
</svg>
</body></html>
